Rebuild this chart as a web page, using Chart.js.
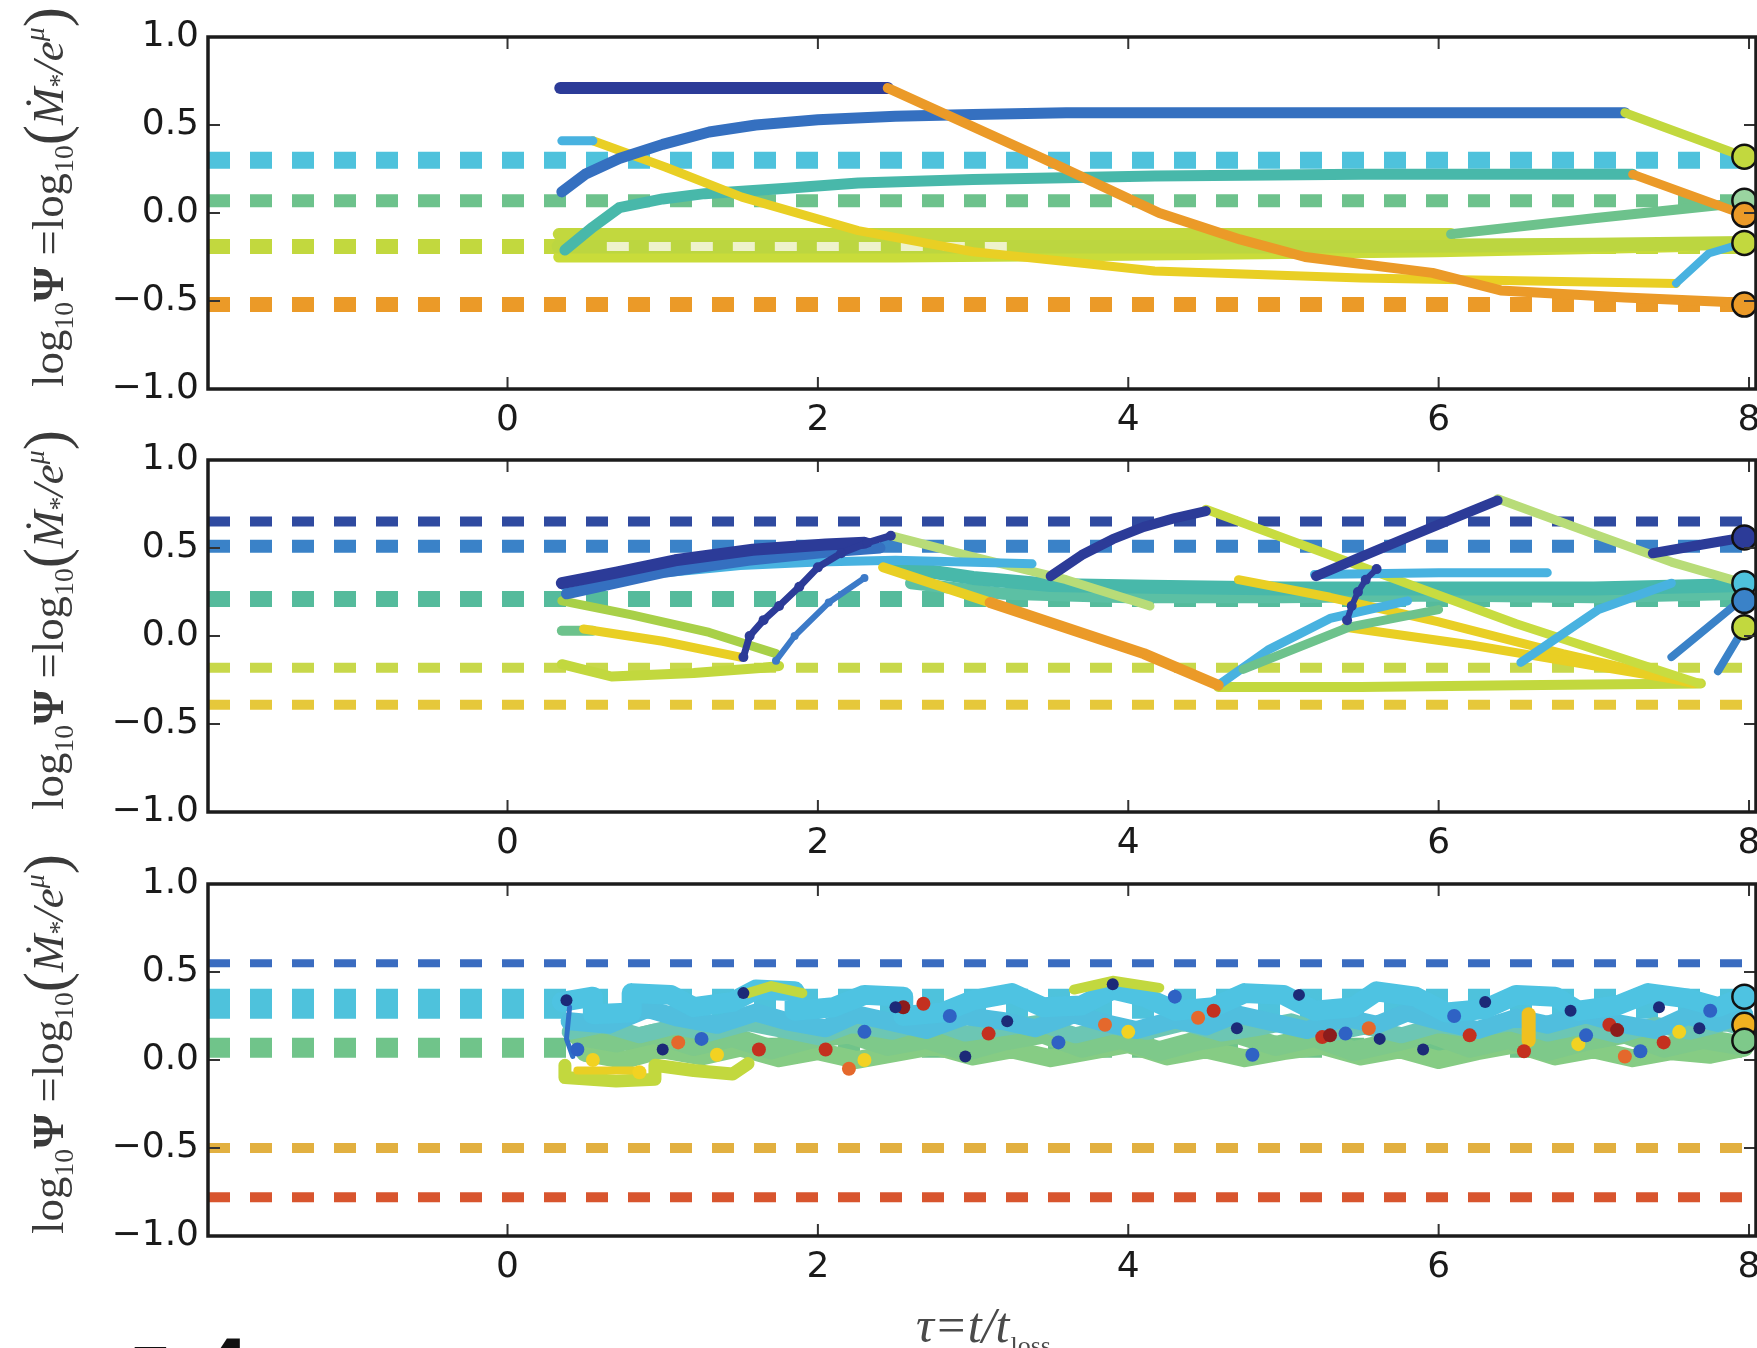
<!DOCTYPE html>
<html>
<head>
<meta charset="utf-8">
<script src="https://cdn.jsdelivr.net/npm/chart.js@4.4.1/dist/chart.umd.min.js"></script>
<style>
  html, body { margin: 0; padding: 0; background: #fff; overflow: hidden; }
  #wrap { position: relative; width: 1757px; height: 1348px; }
  canvas { position: absolute; left: 0; top: 0; }
</style>
</head>
<body>
<div id="wrap">
  <canvas id="p1" width="1757" height="1348"></canvas>
  <canvas id="p2" width="1757" height="1348"></canvas>
  <canvas id="p3" width="1757" height="1348"></canvas>
</div>
<script>
// shared axes
const X_MIN = -1.93, X_MAX = 8.045;
const xTicks = [0, 2, 4, 6, 8];
const yTicks = [-1.0, -0.5, 0.0, 0.5, 1.0];
const END_X  = 7.97;   // final states (circles)

// ---------- panel 1 ----------
const p1Levels = [0.30, 0.07, -0.19, -0.52];

const p1NavyX      = [0.34, 2.45];
const p1NavyY      = [0.71, 0.71];
const p1OrangeX    = [2.45, 3.45, 4.2, 4.72, 5.14, 5.96, 6.4, 7.2, 7.97];
const p1OrangeY    = [0.71, 0.31, 0.0, -0.15, -0.25, -0.34, -0.44, -0.48, -0.51];
const p1BlueX      = [0.35, 0.5, 0.72, 1.0, 1.3, 1.6, 2.0, 2.5, 3.0, 3.6, 4.2, 5.5, 7.2];
const p1BlueY      = [0.12, 0.22, 0.31, 0.39, 0.46, 0.50, 0.53, 0.55, 0.56, 0.57, 0.57, 0.57, 0.57];
const p1BlueTailX  = [7.2, 7.97];
const p1BlueTailY  = [0.57, 0.32];
const p1TealX      = [0.37, 0.55, 0.72, 1.0, 1.27, 1.8, 2.26, 3.0, 4.17, 5.5, 7.25];
const p1TealY      = [-0.21, -0.08, 0.03, 0.08, 0.11, 0.14, 0.17, 0.19, 0.21, 0.22, 0.22];
const p1TealTailX  = [7.25, 7.97];
const p1TealTailY  = [0.22, -0.01];
const p1CyanStubX  = [0.35, 0.55];
const p1CyanStubY  = [0.41, 0.41];
const p1YellowX    = [0.55, 1.02, 1.51, 2.26, 3.0, 3.75, 4.17, 5.5, 7.53];
const p1YellowY    = [0.41, 0.26, 0.09, -0.10, -0.22, -0.29, -0.33, -0.37, -0.40];
const p1YellowTailX = [7.53, 7.74, 7.97];
const p1YellowTailY = [-0.40, -0.23, -0.17];
const p1BandTopX   = [0.33, 3.0, 6.08];
const p1BandTopY   = [-0.12, -0.12, -0.12];
const p1GreenRiseX = [6.08, 7.0, 7.97];
const p1GreenRiseY = [-0.12, -0.03, 0.06];
const p1BandMidX   = [0.33, 3.0, 5.0, 7.0, 7.97];
const p1BandMidY   = [-0.19, -0.19, -0.19, -0.18, -0.17];
const p1BandLowX   = [0.33, 2.5, 4.0, 6.0, 7.6];
const p1BandLowY   = [-0.25, -0.25, -0.24, -0.22, -0.19];
const p1PaleX      = [0.64, 3.3];
const p1PaleY      = [-0.19, -0.19];
const p1EndY       = [0.32, 0.07, -0.01, -0.17, -0.52];

// ---------- panel 2 ----------
const p2Levels = [0.65, 0.51, 0.21, -0.18, -0.39];

const p2NavyAX  = [0.35, 0.7, 1.08, 1.58, 2.05, 2.3];
const p2NavyAY  = [0.30, 0.36, 0.43, 0.49, 0.52, 0.53];
const p2BlueAX  = [0.38, 1.0, 1.55, 2.1, 2.4];
const p2BlueAY  = [0.24, 0.36, 0.43, 0.48, 0.50];
const p2SkyAX   = [0.37, 0.9, 1.5, 2.0, 2.5, 3.38];
const p2SkyAY   = [0.28, 0.35, 0.40, 0.42, 0.43, 0.41];
const p2LimeAX  = [0.35, 0.8, 1.3, 1.73];
const p2LimeAY  = [0.20, 0.12, 0.02, -0.10];
const p2GreenStubX = [0.35, 0.55];
const p2GreenStubY = [0.03, 0.03];
const p2YellowAX = [0.49, 1.0, 1.5];
const p2YellowAY = [0.04, -0.03, -0.12];
const p2LimeBX  = [0.35, 0.67, 1.2, 1.65, 1.75];
const p2LimeBY  = [-0.16, -0.23, -0.21, -0.18, -0.17];
const p2NavyJumpX = [1.52, 1.56, 1.65, 1.75, 1.88, 2.0, 2.15, 2.32, 2.47];
const p2NavyJumpY = [-0.12, 0.0, 0.09, 0.17, 0.28, 0.39, 0.47, 0.53, 0.57];
const p2BlueJumpX = [1.73, 1.85, 2.07, 2.3];
const p2BlueJumpY = [-0.14, 0.0, 0.19, 0.33];
const p2PaleAX  = [2.47, 3.0, 3.6, 4.14];
const p2PaleAY  = [0.57, 0.45, 0.32, 0.17];
const p2TealX   = [2.47, 3.0, 3.5, 4.14, 5.0, 6.0, 7.0, 7.97];
const p2TealY   = [0.40, 0.33, 0.29, 0.28, 0.27, 0.27, 0.27, 0.29];
const p2Teal2X  = [2.6, 3.2, 4.0, 5.0, 6.0, 7.0, 7.97];
const p2Teal2Y  = [0.30, 0.24, 0.22, 0.22, 0.23, 0.22, 0.24];
const p2YellowBX = [2.42, 3.11];
const p2YellowBY = [0.39, 0.19];
const p2OrangeX = [3.11, 4.1, 4.58];
const p2OrangeY = [0.19, -0.10, -0.28];
const p2NavyBX  = [3.5, 3.7, 3.9, 4.1, 4.3, 4.5];
const p2NavyBY  = [0.34, 0.46, 0.55, 0.62, 0.67, 0.71];
const p2LimeCX  = [4.5, 5.39, 6.5, 7.68];
const p2LimeCY  = [0.72, 0.43, 0.07, -0.27];
const p2SkyBX   = [4.58, 4.9, 5.3, 5.8];
const p2SkyBY   = [-0.28, -0.08, 0.10, 0.20];
const p2NavyCX  = [5.21, 5.5, 5.8, 6.1, 6.38];
const p2NavyCY  = [0.34, 0.45, 0.56, 0.67, 0.77];
const p2NavyDotX = [5.41, 5.44, 5.48, 5.53, 5.6];
const p2NavyDotY = [0.09, 0.17, 0.25, 0.32, 0.38];
const p2PaleBX  = [6.38, 7.0, 7.5, 7.97];
const p2PaleBY  = [0.78, 0.58, 0.42, 0.30];
const p2NavyEndX = [7.38, 7.7, 7.97];
const p2NavyEndY = [0.47, 0.52, 0.56];
const p2BlueEndAX = [7.5, 7.97];
const p2BlueEndAY = [-0.12, 0.22];
const p2BlueEndBX = [7.8, 7.97];
const p2BlueEndBY = [-0.20, 0.05];
const p2YellowCX = [4.71, 5.3, 6.0, 6.8, 7.64];
const p2YellowCY = [0.32, 0.22, 0.08, -0.10, -0.27];
const p2YellowDX = [5.4, 6.2, 7.0, 7.68];
const p2YellowDY = [0.05, -0.05, -0.17, -0.27];
const p2LimeLowX = [4.58, 5.5, 6.5, 7.69];
const p2LimeLowY = [-0.29, -0.29, -0.28, -0.27];
const p2GreenCX = [4.74, 5.42, 6.0];
const p2GreenCY = [-0.19, 0.05, 0.15];
const p2SkyCX   = [6.53, 7.03, 7.5];
const p2SkyCY   = [-0.15, 0.15, 0.30];
const p2SkyDX   = [5.2, 6.0, 6.7];
const p2SkyDY   = [0.35, 0.36, 0.36];
const p2EndY    = [0.56, 0.30, 0.20, 0.05];

// ---------- panel 3 ----------
const p3Levels = [0.55, 0.32, 0.07, -0.50, -0.78];

const p3CyanAX = [0.35,0.55,0.55,0.8,0.8,1.05,1.2,1.45,1.6,1.85,1.85,2.1,2.3,2.55,2.55,2.8,3.0,3.25,3.45,3.7,3.9,4.1,4.3,4.55,4.75,5.0,5.2,5.45,5.6,5.85,6.05,6.3,6.5,6.75,6.9,7.15,7.35,7.6,7.8,7.97];
const p3CyanAY = [0.33,0.36,0.26,0.27,0.38,0.37,0.30,0.33,0.40,0.39,0.28,0.30,0.37,0.36,0.25,0.27,0.34,0.38,0.30,0.31,0.40,0.36,0.28,0.30,0.38,0.37,0.28,0.30,0.39,0.36,0.27,0.29,0.37,0.36,0.28,0.31,0.38,0.35,0.30,0.36];
const p3CyanBX = [0.4,0.65,0.9,1.1,1.35,1.6,1.8,2.05,2.25,2.5,2.7,2.95,3.2,3.4,3.65,3.85,4.05,4.3,4.5,4.7,4.95,5.15,5.4,5.6,5.8,6.05,6.25,6.5,6.7,6.95,7.15,7.4,7.6,7.8,7.97];
const p3CyanBY = [0.22,0.20,0.29,0.24,0.20,0.27,0.22,0.18,0.26,0.21,0.17,0.25,0.22,0.18,0.26,0.21,0.17,0.23,0.19,0.26,0.21,0.17,0.24,0.20,0.27,0.21,0.17,0.24,0.20,0.26,0.21,0.17,0.25,0.21,0.26];
const p3MidX = [0.4,0.62,0.85,1.08,1.3,1.55,1.78,2.0,2.22,2.48,2.72,2.95,3.18,3.42,3.66,3.9,4.12,4.36,4.6,4.82,5.05,5.3,5.52,5.76,6.0,6.22,6.46,6.7,6.92,7.16,7.4,7.62,7.85,7.97];
const p3MidY = [0.16,0.20,0.14,0.19,0.15,0.21,0.17,0.13,0.20,0.16,0.22,0.15,0.18,0.21,0.14,0.19,0.16,0.21,0.15,0.18,0.22,0.15,0.19,0.14,0.20,0.17,0.21,0.15,0.19,0.14,0.20,0.16,0.21,0.18];
const p3GreenAX = [0.45,0.7,0.95,1.2,1.45,1.7,1.95,2.2,2.45,2.7,2.95,3.2,3.45,3.7,3.95,4.2,4.45,4.7,4.95,5.2,5.45,5.7,5.95,6.2,6.45,6.7,6.95,7.2,7.45,7.7,7.97];
const p3GreenAY = [0.14,0.10,0.15,0.08,0.13,0.06,0.12,0.15,0.08,0.12,0.05,0.11,0.15,0.07,0.12,0.05,0.11,0.15,0.08,0.13,0.05,0.10,0.15,0.07,0.12,0.05,0.11,0.15,0.07,0.12,0.08];
const p3GreenBX = [0.5,0.75,1.0,1.25,1.5,1.75,2.0,2.25,2.5,2.75,3.0,3.25,3.5,3.75,4.0,4.25,4.5,4.75,5.0,5.25,5.5,5.75,6.0,6.25,6.5,6.75,7.0,7.25,7.5,7.75,7.97];
const p3GreenBY = [0.04,0.00,0.06,0.02,0.07,0.01,0.05,0.00,0.04,0.08,0.02,0.06,0.01,0.05,0.09,0.02,0.06,0.01,0.05,0.08,0.02,0.06,0.00,0.05,0.09,0.02,0.06,0.01,0.05,0.03,0.07];
const p3LimeX   = [0.37, 0.37, 0.7, 0.95, 0.95, 1.2, 1.45, 1.55];
const p3LimeY   = [-0.03, -0.10, -0.12, -0.11, -0.03, -0.06, -0.08, -0.02];
const p3YellowLoopX = [0.45, 0.85];
const p3YellowLoopY = [-0.06, -0.06];
const p3LimeTopX = [3.65, 3.9, 4.2];
const p3LimeTopY = [0.40, 0.45, 0.41];
const p3LimeTop2X = [1.55, 1.7, 1.9];
const p3LimeTop2Y = [0.38, 0.42, 0.38];
const p3GoldX   = [6.58, 6.58];
const p3GoldY   = [0.11, 0.26];
const p3BlueTraceX = [0.40, 0.38, 0.42];
const p3BlueTraceY = [0.30, 0.12, 0.02];
const p3NavyDotX = [0.38, 1.52, 2.5, 3.22, 3.9, 4.7, 5.1, 5.62, 6.3, 6.85, 7.42, 7.68, 2.95, 1.0, 5.9];
const p3NavyDotY = [0.34, 0.38, 0.30, 0.22, 0.43, 0.18, 0.37, 0.12, 0.33, 0.28, 0.30, 0.18, 0.02, 0.06, 0.06];
const p3BlueDotX = [0.45, 1.25, 2.3, 2.85, 3.55, 4.3, 4.8, 5.4, 6.1, 6.95, 7.3, 7.75];
const p3BlueDotY = [0.06, 0.12, 0.16, 0.25, 0.10, 0.36, 0.03, 0.15, 0.25, 0.14, 0.05, 0.28];
const p3RedDotX = [1.62, 2.05, 2.68, 3.1, 4.55, 5.25, 6.2, 6.55, 7.1, 7.45];
const p3RedDotY = [0.06, 0.06, 0.32, 0.15, 0.28, 0.13, 0.14, 0.05, 0.20, 0.10];
const p3DarkRedDotX = [2.55, 5.3, 7.15];
const p3DarkRedDotY = [0.30, 0.14, 0.17];
const p3OrangeDotX = [1.1, 2.2, 3.85, 4.45, 5.55, 7.2];
const p3OrangeDotY = [0.10, -0.05, 0.20, 0.24, 0.18, 0.02];
const p3YellowDotX = [0.55, 0.85, 1.35, 2.3, 4.0, 6.9, 7.55];
const p3YellowDotY = [0.00, -0.07, 0.03, 0.00, 0.16, 0.09, 0.16];
const p3EndY = [0.36, 0.20, 0.11];

// ---------- colours ----------
const C = {
  navy: '#2c3b98', blue: '#3570c0', sky: '#48b2e0', cyan: '#4ec2dc', teal: '#48b8aa',
  green: '#6dc28c', lime: '#c2d83e', yellow: '#e9cf24', gold: '#eab830', orange: '#eb9a28',
  red: '#d8552e', darkred: '#8c1c1c', pale: '#b8dc78'
};

const pts = (xs, ys) => xs.map((x, i) => ({ x, y: ys[i] }));

function trace(xs, ys, color, width, extra) {
  return Object.assign({
    data: pts(xs, ys), borderColor: color, borderWidth: width, pointRadius: 0,
    borderCapStyle: 'round', borderJoinStyle: 'round', tension: 0, fill: false, clip: 0
  }, extra || {});
}
function level(y, color, width) {
  return {
    data: [{ x: X_MIN, y }, { x: X_MAX, y }], borderColor: color, borderWidth: width,
    borderDash: [22, 20], borderCapStyle: 'butt', pointRadius: 0, fill: false, clip: 0
  };
}
function dots(xs, ys, color, r, edge) {
  return {
    data: pts(xs, ys), showLine: false, pointRadius: r, pointBackgroundColor: color,
    pointBorderColor: edge || color, pointBorderWidth: edge ? 2.5 : 0, clip: 0
  };
}
const endX = ys => ys.map(() => END_X);

// y label:  log10 Psi = log10( Mdot_* / e^mu )
function drawYLabel(ctx, bx, cy) {
  const serif = '"Liberation Serif", "DejaVu Serif", serif';
  const b = 40;
  const parts = [
    ['log', 1, '', 0], ['10', 0.62, '', 0.22], ['\u03A8', 1, 'bold ', 0], [' =', 1, '', 0],
    ['log', 1, '', 0], ['10', 0.62, '', 0.22], ['(', 1.35, '', 0.06],
    ['\u1E40', 1, 'italic ', 0], ['*', 0.62, '', 0.12], ['/', 1, 'italic ', 0],
    ['e', 1, 'italic ', 0], ['\u03BC', 0.62, 'italic ', -0.42], [')', 1.35, '', 0.06]
  ];
  ctx.save();
  let total = 0;
  parts.forEach(p => { ctx.font = p[2] + (b * p[1]) + 'px ' + serif; total += ctx.measureText(p[0]).width; });
  const k = 380 / total;
  ctx.translate(bx, cy);
  ctx.rotate(-Math.PI / 2);
  ctx.fillStyle = '#3a3a3a';
  ctx.textBaseline = 'alphabetic';
  let pos = -190;
  parts.forEach(p => {
    ctx.font = p[2] + (b * k * p[1]) + 'px ' + serif;
    ctx.fillText(p[0], pos, p[3] * b * k);
    pos += ctx.measureText(p[0]).width;
  });
  ctx.restore();
}

const frame = {
  id: 'frame',
  afterDraw(chart) {
    const { ctx, chartArea: a, scales: { x, y } } = chart;
    ctx.save();
    ctx.strokeStyle = '#333';
    ctx.lineWidth = 2;
    ctx.beginPath();
    x.ticks.forEach(t => {
      const px = x.getPixelForValue(t.value);
      ctx.moveTo(px, a.top); ctx.lineTo(px, a.top + 12);
      ctx.moveTo(px, a.bottom); ctx.lineTo(px, a.bottom - 12);
    });
    y.ticks.forEach(t => {
      const py = y.getPixelForValue(t.value);
      ctx.moveTo(a.left, py); ctx.lineTo(a.left + 12, py);
      ctx.moveTo(a.right, py); ctx.lineTo(a.right - 12, py);
    });
    ctx.stroke();
    ctx.lineWidth = 3.5;
    ctx.strokeStyle = '#1c1c1c';
    ctx.strokeRect(a.left, a.top, a.right - a.left, a.bottom - a.top);
    ctx.restore();
    drawYLabel(ctx, 63, (a.top + a.bottom) / 2 - 16);
  }
};

const bottomText = {
  id: 'bottomText',
  afterDraw(chart) {
    const ctx = chart.ctx;
    const serif = '"Liberation Serif", "DejaVu Serif", serif';
    ctx.save();
    ctx.fillStyle = '#4a4a4a';
    ctx.textBaseline = 'alphabetic';
    const main = '\u03C4=t/t';
    ctx.font = 'italic 50px ' + serif;
    const w1 = ctx.measureText(main).width;
    ctx.font = '26px ' + serif;
    const w2 = ctx.measureText('loss').width;
    const x0 = 983 - (w1 + w2) / 2;
    ctx.font = 'italic 50px ' + serif;
    ctx.fillText(main, x0, 1342);
    ctx.font = '26px ' + serif;
    ctx.fillText('loss', x0 + w1 + 1, 1354);
    ctx.fillStyle = '#111';
    ctx.font = 'bold 62px "DejaVu Sans", sans-serif';
    ctx.fillText('F', 129, 1392);
    ctx.fillText('4', 206, 1384);
    ctx.restore();
  }
};

const tickFont = { family: '"DejaVu Sans", sans-serif', size: 36 };
const fmt = v => (v < 0 ? '\u2212' : '') + Math.abs(v).toFixed(1);

function makePanel(id, top, bottom, layers, extraPlugins) {
  return new Chart(document.getElementById(id), {
    type: 'line',
    data: { datasets: layers.slice().reverse() },   // first drawn = last in list
    options: {
      responsive: false, animation: false, devicePixelRatio: 1,
      layout: { autoPadding: false, padding: { top: top, left: 0, right: 1, bottom: 0 } },
      plugins: { legend: { display: false }, tooltip: { enabled: false } },
      scales: {
        x: {
          type: 'linear', min: X_MIN, max: X_MAX,
          afterBuildTicks: s => { s.ticks = xTicks.map(v => ({ value: v })); },
          afterFit: s => { s.height = 1348 - bottom; s.paddingLeft = 0; s.paddingRight = 0; },
          grid: { display: false, drawTicks: false }, border: { display: false },
          ticks: { font: tickFont, color: '#1a1a1a', padding: 10, maxRotation: 0, autoSkip: false,
                   callback: v => String(v) }
        },
        y: {
          type: 'linear', min: -1, max: 1,
          afterBuildTicks: s => { s.ticks = yTicks.map(v => ({ value: v })); },
          afterFit: s => { s.width = 208; s.paddingTop = 0; s.paddingBottom = 0; },
          grid: { display: false, drawTicks: false }, border: { display: false },
          ticks: { font: tickFont, color: '#1a1a1a', padding: 9, callback: v => fmt(v) }
        }
      }
    },
    plugins: [frame].concat(extraPlugins || [])
  });
}

// ---------- panel 1 layers (bottom to top) ----------
const p1LevelStyle = [[C.cyan, 17], [C.green, 13], [C.lime, 15], [C.orange, 15]];
makePanel('p1', 37, 389, [
  ...p1Levels.map((v, i) => level(v, p1LevelStyle[i][0], p1LevelStyle[i][1])),
  trace(p1BandLowX, p1BandLowY, '#c9dc3a', 11),
  trace(p1BandMidX, p1BandMidY, '#bcd640', 14),
  trace(p1BandTopX, p1BandTopY, C.lime, 12),
  trace(p1PaleX, p1PaleY, '#eef2cc', 9, { borderDash: [22, 20], borderCapStyle: 'butt' }),
  trace(p1GreenRiseX, p1GreenRiseY, C.green, 10),
  trace(p1TealX, p1TealY, C.teal, 11),
  trace(p1TealTailX, p1TealTailY, C.orange, 9),
  trace(p1YellowX, p1YellowY, C.yellow, 9),
  trace(p1YellowTailX, p1YellowTailY, C.sky, 8),
  trace(p1CyanStubX, p1CyanStubY, C.sky, 9),
  trace(p1BlueX, p1BlueY, C.blue, 11),
  trace(p1BlueTailX, p1BlueTailY, C.lime, 9),
  trace(p1NavyX, p1NavyY, C.navy, 12),
  trace(p1OrangeX, p1OrangeY, C.orange, 10),
  dots(endX(p1EndY), p1EndY, [C.lime, '#9ad4a0', C.orange, C.lime, C.orange], 12, '#111')
]);

// ---------- panel 2 layers ----------
const p2LevelStyle = [['#2f4aa0', 10], ['#3a82c8', 13], ['#55bb9c', 16], ['#c8d84a', 10], ['#e6c83a', 10]];
makePanel('p2', 460, 812, [
  ...p2Levels.map((v, i) => level(v, p2LevelStyle[i][0], p2LevelStyle[i][1])),
  trace(p2Teal2X, p2Teal2Y, '#5cc0a4', 12),
  trace(p2TealX, p2TealY, C.teal, 14),
  trace(p2LimeBX, p2LimeBY, C.lime, 10),
  trace(p2LimeLowX, p2LimeLowY, C.lime, 10),
  trace(p2LimeAX, p2LimeAY, '#a8d048', 9),
  trace(p2GreenStubX, p2GreenStubY, C.green, 10),
  trace(p2YellowAX, p2YellowAY, C.yellow, 9),
  trace(p2YellowCX, p2YellowCY, C.yellow, 9),
  trace(p2YellowDX, p2YellowDY, C.yellow, 9),
  trace(p2LimeCX, p2LimeCY, '#c8dc40', 9),
  trace(p2PaleAX, p2PaleAY, C.pale, 9),
  trace(p2PaleBX, p2PaleBY, C.pale, 9),
  trace(p2SkyAX, p2SkyAY, C.sky, 9),
  trace(p2SkyBX, p2SkyBY, C.sky, 9),
  trace(p2SkyCX, p2SkyCY, C.sky, 9),
  trace(p2SkyDX, p2SkyDY, C.sky, 9),
  trace(p2GreenCX, p2GreenCY, C.green, 9),
  trace(p2YellowBX, p2YellowBY, C.yellow, 10),
  trace(p2OrangeX, p2OrangeY, C.orange, 11),
  trace(p2BlueAX, p2BlueAY, C.blue, 11),
  trace(p2NavyAX, p2NavyAY, C.navy, 12),
  trace(p2BlueJumpX, p2BlueJumpY, '#3c7ac8', 6, { pointRadius: 4, pointBackgroundColor: '#3c7ac8', pointBorderWidth: 0 }),
  trace(p2NavyJumpX, p2NavyJumpY, C.navy, 7, { pointRadius: 5, pointBackgroundColor: C.navy, pointBorderWidth: 0 }),
  trace(p2NavyBX, p2NavyBY, C.navy, 10),
  trace(p2NavyCX, p2NavyCY, C.navy, 10),
  trace(p2NavyDotX, p2NavyDotY, C.navy, 6, { pointRadius: 5, pointBackgroundColor: C.navy, pointBorderWidth: 0 }),
  trace(p2NavyEndX, p2NavyEndY, C.navy, 10),
  trace(p2BlueEndAX, p2BlueEndAY, '#3a82c8', 8),
  trace(p2BlueEndBX, p2BlueEndBY, '#3a82c8', 8),
  dots(endX(p2EndY), p2EndY, [C.navy, C.cyan, '#3a82c8', C.lime], 12, '#111')
]);

// ---------- panel 3 layers ----------
const p3LevelStyle = [['#3a6cc0', 8], [C.cyan, 30], ['#70c48a', 20], ['#e2b040', 10], [C.red, 10]];
makePanel('p3', 884, 1236, [
  ...p3Levels.map((v, i) => level(v, p3LevelStyle[i][0], p3LevelStyle[i][1])),
  trace(p3GreenBX, p3GreenBY, '#86cc84', 18),
  trace(p3GreenAX, p3GreenAY, '#7ec98a', 20),
  trace(p3MidX, p3MidY, '#6cc6b4', 16),
  trace(p3CyanBX, p3CyanBY, '#50bede', 18),
  trace(p3CyanAX, p3CyanAY, '#4ec3e2', 20),
  trace(p3LimeX, p3LimeY, C.lime, 13),
  trace(p3YellowLoopX, p3YellowLoopY, C.yellow, 8),
  trace(p3LimeTopX, p3LimeTopY, C.lime, 10),
  trace(p3LimeTop2X, p3LimeTop2Y, C.lime, 10),
  trace(p3GoldX, p3GoldY, '#f0c020', 14),
  trace(p3BlueTraceX, p3BlueTraceY, '#3070c8', 5),
  dots(p3YellowDotX, p3YellowDotY, '#f2d222', 7),
  dots(p3OrangeDotX, p3OrangeDotY, '#e4682c', 7),
  dots(p3RedDotX, p3RedDotY, '#c4301f', 7),
  dots(p3DarkRedDotX, p3DarkRedDotY, C.darkred, 7),
  dots(p3BlueDotX, p3BlueDotY, '#2f62c4', 7),
  dots(p3NavyDotX, p3NavyDotY, '#1c2a78', 6),
  dots(endX(p3EndY), p3EndY, ['#4ec3e2', '#f0b020', '#7ec98a'], 12, '#111')
], [bottomText]);
</script>
</body>
</html>
